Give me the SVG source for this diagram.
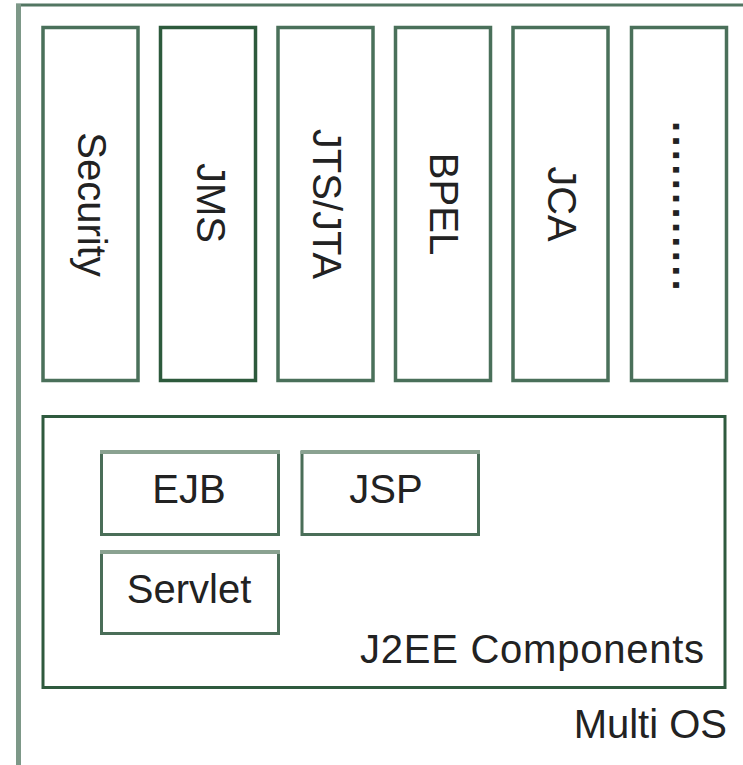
<svg xmlns="http://www.w3.org/2000/svg" width="743" height="765" viewBox="0 0 743 765">
<style>
.t{font-family:"Liberation Sans",Arial,sans-serif;font-size:40px;fill:#222}
.col{fill:#fff;stroke:#4a705a;stroke-width:3.5}
.sm{fill:#fff;stroke:#4a6e58;stroke-width:3}
.smtop{stroke:#8aa291;stroke-width:4}
</style>
<rect width="743" height="765" fill="#fff"/>
<g id="multi-os">
<line x1="16" y1="5" x2="743" y2="5" stroke="#527662" stroke-width="3"/>
<line x1="18.5" y1="4" x2="18.5" y2="765" stroke="#7d9888" stroke-width="5"/>
<text class="t" x="727" y="738" text-anchor="end">Multi OS</text>
</g>
<g id="security">
<rect class="col" x="43" y="27.5" width="95" height="353"/>
<text class="t" transform="translate(78,204.5) rotate(90)" text-anchor="middle">Security</text>
</g>
<g id="jms">
<rect class="col" x="160.5" y="27.5" width="95" height="353" style="stroke:#2d5a3c"/>
<text class="t" transform="translate(197,203) rotate(90)" text-anchor="middle">JMS</text>
</g>
<g id="jts-jta">
<rect class="col" x="278" y="27.5" width="95" height="353"/>
<text class="t" transform="translate(313,204) rotate(90)" text-anchor="middle">JTS/JTA</text>
</g>
<g id="bpel">
<rect class="col" x="395.5" y="27.5" width="95" height="353"/>
<text class="t" transform="translate(430,204) rotate(90)" text-anchor="middle">BPEL</text>
</g>
<g id="jca">
<rect class="col" x="513" y="27.5" width="95" height="353"/>
<text class="t" transform="translate(548,204) rotate(90)" text-anchor="middle">JCA</text>
</g>
<g id="more">
<rect class="col" x="631.5" y="27.5" width="95" height="353"/>
<text class="t" transform="translate(673,121) rotate(90)" letter-spacing="3.3" font-weight="bold">............</text>
</g>
<g id="j2ee-components">
<rect x="43" y="416.5" width="682" height="271" fill="#fff" stroke="#2f5a3e" stroke-width="3"/>
<text class="t" x="360" y="663" textLength="344" lengthAdjust="spacing">J2EE Components</text>
</g>
<g id="ejb">
<rect class="sm" x="101.5" y="452.5" width="177" height="82"/>
<line class="smtop" x1="100" y1="452" x2="280" y2="452"/>
<text class="t" x="189" y="503" text-anchor="middle">EJB</text>
</g>
<g id="jsp">
<rect class="sm" x="302" y="452.5" width="176.5" height="82"/>
<line class="smtop" x1="300.5" y1="452" x2="480" y2="452"/>
<text class="t" x="386" y="503" text-anchor="middle">JSP</text>
</g>
<g id="servlet">
<rect class="sm" x="101.5" y="552.5" width="177" height="81"/>
<line class="smtop" x1="100" y1="552" x2="280" y2="552"/>
<text class="t" x="189" y="603" text-anchor="middle">Servlet</text>
</g>
<g id="connectors"/>
</svg>
